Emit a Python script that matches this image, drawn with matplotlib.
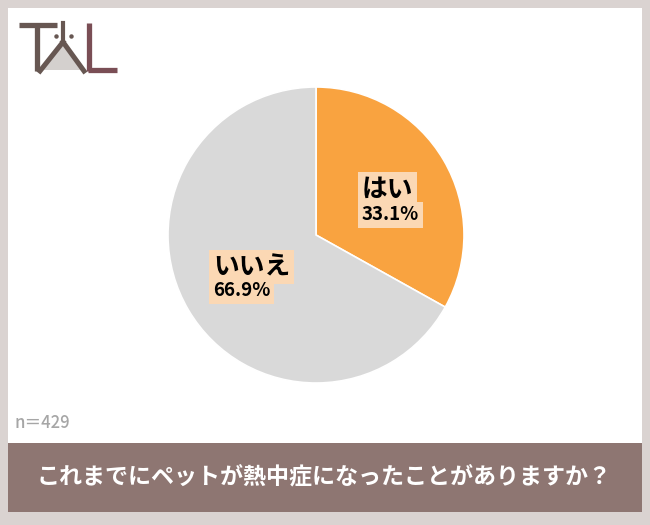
import matplotlib
matplotlib.use('Agg')
import matplotlib.pyplot as plt
from matplotlib.patches import Rectangle, Polygon

plt.rcParams['font.family'] = ['Noto Sans CJK JP', 'DejaVu Sans']

# データ
labels = ['はい', 'いいえ']
values = [33.1, 66.9]
colors = ['#F9A340', '#D9D9D9']
title = 'これまでにペットが熱中症になったことがありますか？'
n_text = 'n＝429'

W, H = 650, 525
fig = plt.figure(figsize=(6.5, 5.25), dpi=100)
fig.patch.set_facecolor('#DAD3D1')

bg = fig.add_axes([0, 0, 1, 1])
bg.set_xlim(0, W)
bg.set_ylim(H, 0)
bg.axis('off')
bg.add_patch(Rectangle((8, 8), 634, 436, facecolor='white', edgecolor='none'))
bg.add_patch(Rectangle((8, 443), 634, 69, facecolor='#8E7672', edgecolor='none'))
bg.text(324, 478, title, color='white', fontsize=16.6, fontweight='bold',
        ha='center', va='center')
bg.text(14, 423, n_text, color='#A6A6A6', fontsize=12, fontweight='medium',
        ha='left', va='center')

# ロゴ
dark = '#675752'
bg.plot([19, 57], [25, 25], color=dark, lw=3.8, solid_capstyle='butt')
bg.plot([37, 37], [25, 71], color=dark, lw=3.8, solid_capstyle='butt')
bg.add_patch(Polygon([[63, 42], [42, 70], [84, 70]], closed=True,
                     facecolor='#D4D0CE', edgecolor='none'))
bg.plot([63, 63], [23, 42], color=dark, lw=3.0)
bg.plot([63, 40], [42, 71], color=dark, lw=3.6)
bg.plot([63, 84], [42, 71], color=dark, lw=3.6)
bg.plot([56, 71], [36, 36], 'o', color=dark, ms=2.2)
bg.plot([89, 89], [23, 71], color='#7A4E55', lw=3.8, solid_capstyle='butt')
bg.plot([88, 117], [70, 70], color='#7A4E55', lw=3.8, solid_capstyle='butt')

# 円グラフ
cx, cy, r = 316, 235, 148
ax = fig.add_axes([(cx - r) / W, (H - cy - r) / H, 2 * r / W, 2 * r / H])
ax.pie(values, colors=colors, startangle=90, counterclock=False,
       wedgeprops=dict(edgecolor='white', linewidth=1.2))
ax.set_xlim(-1, 1)
ax.set_ylim(-1, 1)
ax.set_aspect('equal')
ax.axis('off')

# ラベル: 背景ボックスを先に、文字を後に描く
box = dict(facecolor='#FBD8B4', edgecolor='none', pad=2.5)
pos = [(362, 189, 215), (213, 267, 291)]
for lab, val, (x, y1, y2) in zip(labels, values, pos):
    items = [(lab, y1, 18.5), (f'{val:.1f}%', y2, 13.5)]
    for s, y, fs in items:
        ax.text(x, y, s, fontsize=fs, fontweight='bold', ha='left', va='center',
                color='none', bbox=box, transform=bg.transData,
                clip_on=False, zorder=3)
        ax.text(x, y, s, fontsize=fs, fontweight='bold', ha='left', va='center',
                color='black', transform=bg.transData, clip_on=False,
                zorder=4)

plt.savefig('out.png', dpi=100)
